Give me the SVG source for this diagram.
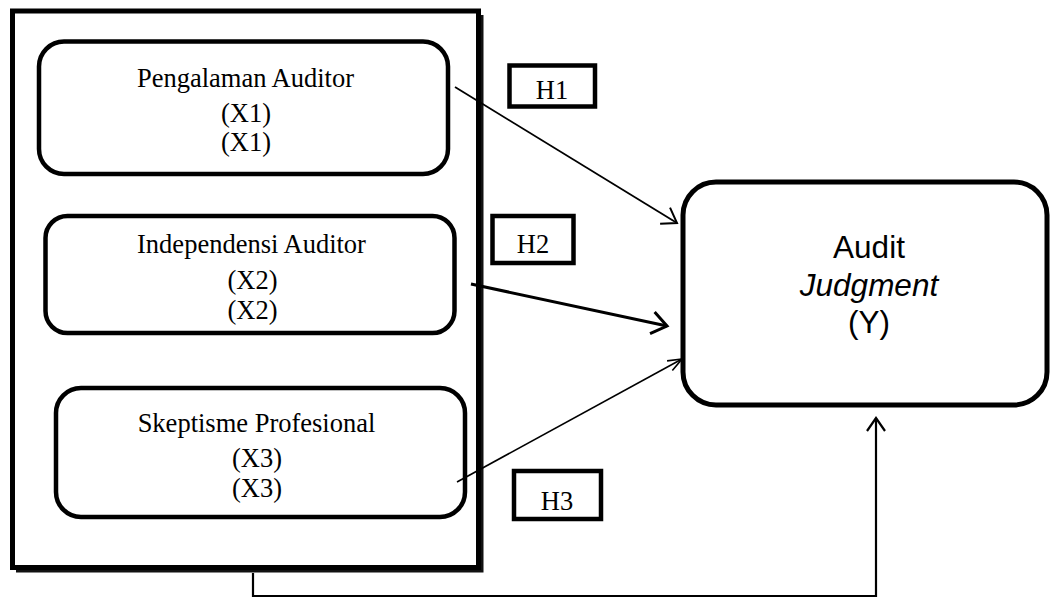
<svg xmlns="http://www.w3.org/2000/svg" width="1050" height="597" viewBox="0 0 1050 597">
<style>
.bx{fill:#fff;stroke:#000;stroke-width:4.5}
.hb{fill:#fff;stroke:#000;stroke-width:4.5}
.t{font-family:"Liberation Serif","Times New Roman",serif;font-size:26.5px;fill:#000;text-anchor:middle}
.ty{font-family:"Liberation Sans",Arial,sans-serif;font-size:31.5px;fill:#000;text-anchor:middle}
.c{fill:none;stroke:#000}
</style>
<defs>
<marker id="a1" markerUnits="userSpaceOnUse" markerWidth="30" markerHeight="30" refX="0" refY="0" viewBox="-20 -15 25 30" orient="auto" overflow="visible"><path d="M-14,-9.5 L0,0 L-14,9.5" fill="none" stroke="#000" stroke-width="2"/></marker>
<marker id="a2" markerUnits="userSpaceOnUse" markerWidth="30" markerHeight="30" refX="0" refY="0" viewBox="-20 -15 25 30" orient="auto" overflow="visible"><path d="M-15,-11 L0,0 L-15,11" fill="none" stroke="#000" stroke-width="3"/></marker>
<marker id="a3" markerUnits="userSpaceOnUse" markerWidth="30" markerHeight="30" refX="0" refY="0" viewBox="-20 -15 25 30" orient="auto" overflow="visible"><path d="M-14,-5.5 L0,0 L-14,5.5" fill="none" stroke="#000" stroke-width="1.6"/></marker>
<marker id="a4" markerUnits="userSpaceOnUse" markerWidth="30" markerHeight="30" refX="0" refY="0" viewBox="-20 -15 25 30" orient="auto" overflow="visible"><path d="M-13,-9 L0,0 L-13,9" fill="none" stroke="#000" stroke-width="2.2"/></marker>
</defs>
<rect width="1050" height="597" fill="#fff"/>
<g id="outer">
<path d="M16,571 H482 V15" fill="none" stroke="#111" stroke-width="3"/>
<rect x="12.5" y="11" width="466" height="556.5" fill="none" stroke="#000" stroke-width="5"/>
</g>
<g id="x1">
<rect class="bx" x="39" y="41.5" width="409" height="132.5" rx="25"/>
<text class="t" x="245.5" y="87">Pengalaman Auditor</text>
<text class="t" x="246" y="122">(X1)</text>
<text class="t" x="246" y="151">(X1)</text>
</g>
<g id="x2">
<rect class="bx" x="45.5" y="216" width="409" height="117" rx="22"/>
<text class="t" x="251.5" y="253">Independensi Auditor</text>
<text class="t" x="252.5" y="288.5">(X2)</text>
<text class="t" x="252.5" y="318.5">(X2)</text>
</g>
<g id="x3">
<rect class="bx" x="56" y="388" width="409" height="129" rx="25"/>
<text class="t" x="256.5" y="431.5">Skeptisme Profesional</text>
<text class="t" x="257" y="466.5">(X3)</text>
<text class="t" x="257" y="496.5">(X3)</text>
</g>
<g id="y">
<rect x="683" y="182" width="364" height="223" rx="33" fill="#fff" stroke="#000" stroke-width="5"/>
<text class="ty" x="869" y="258">Audit</text>
<text class="ty" x="869" y="296" font-style="italic">Judgment</text>
<text class="ty" x="869" y="333">(Y)</text>
</g>
<g id="h1">
<rect class="hb" x="509.5" y="65.5" width="85.5" height="41"/>
<text class="t" x="552" y="99">H1</text>
</g>
<g id="h2">
<rect class="hb" x="492.5" y="216" width="81" height="47"/>
<text class="t" x="533" y="252.5">H2</text>
</g>
<g id="h3">
<rect class="hb" x="514" y="471" width="87" height="48"/>
<text class="t" x="557" y="510">H3</text>
</g>
<g id="connectors">
<line class="c" x1="455" y1="87" x2="677" y2="223" stroke-width="1.8" marker-end="url(#a1)"/>
<line class="c" x1="471" y1="284" x2="667" y2="326" stroke-width="3" marker-end="url(#a2)"/>
<line class="c" x1="457" y1="482" x2="682" y2="359" stroke-width="1.6" marker-end="url(#a3)"/>
<path class="c" d="M253,573 V596 H876 V418" stroke-width="2.2" marker-end="url(#a4)"/>
</g>
</svg>
